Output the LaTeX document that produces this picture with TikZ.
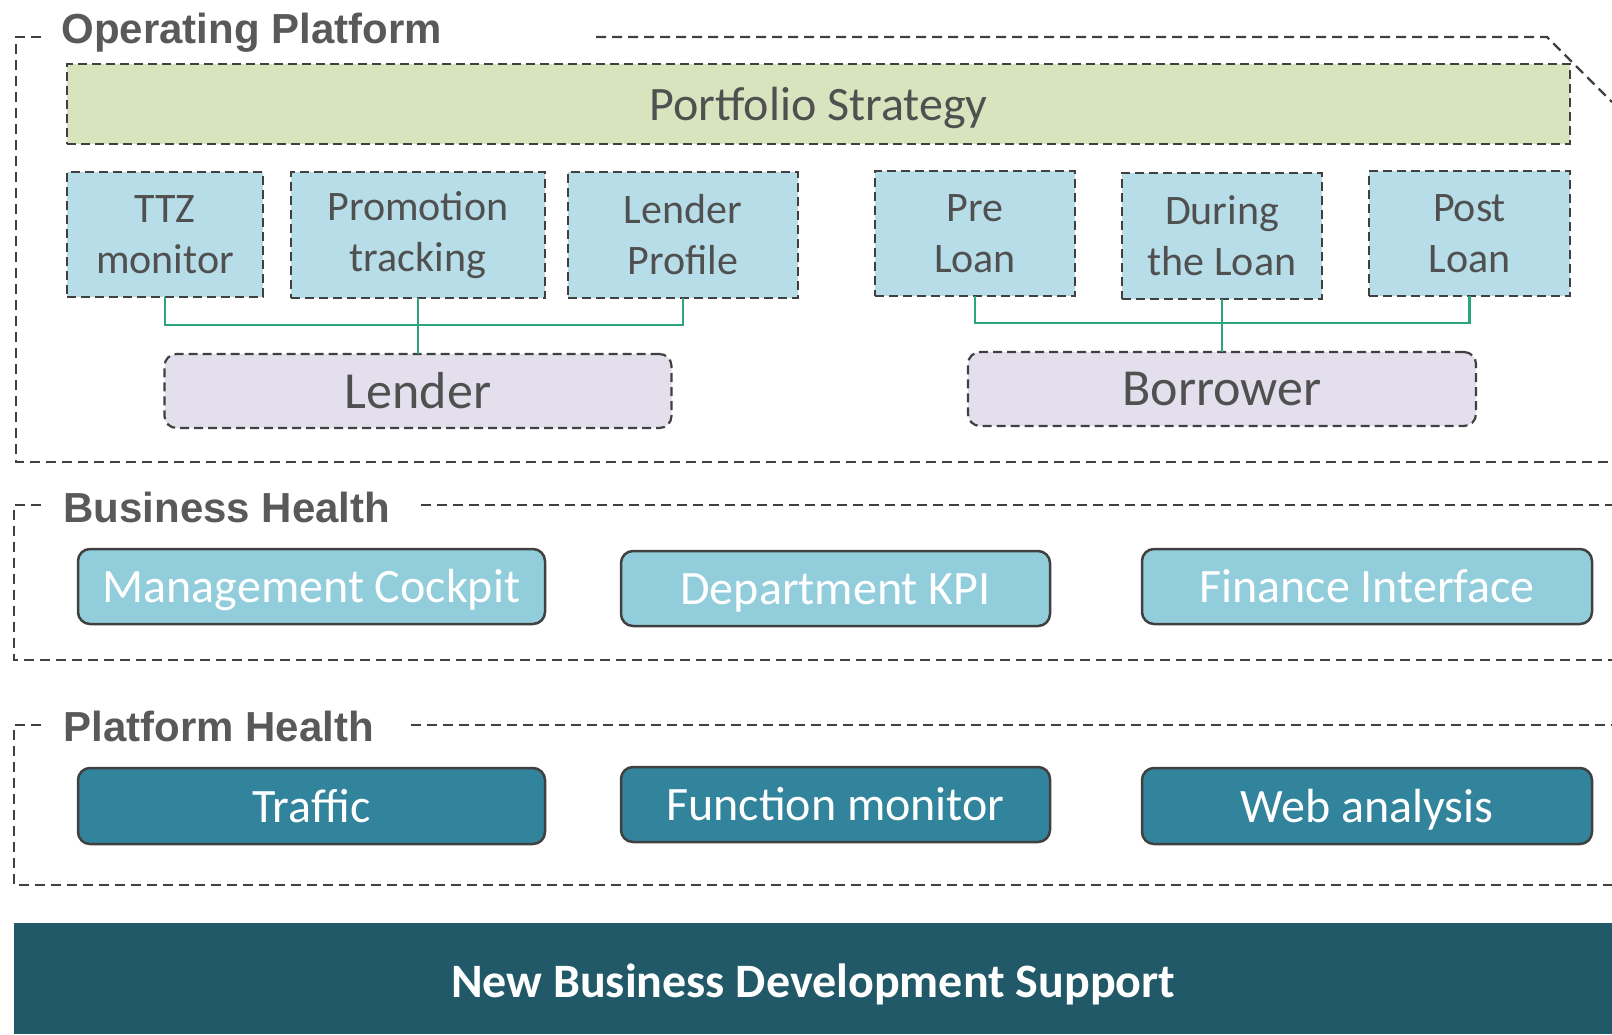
\documentclass[tikz,border=0pt]{standalone}
\usepackage{fontspec}
\setmainfont{Carlito}
\newfontfamily\headfont{Liberation Sans}
\usepackage{xcolor}
\usetikzlibrary{positioning,calc}
\definecolor{linegray}{HTML}{404040}
\definecolor{textgray}{HTML}{505050}
\definecolor{headgray}{HTML}{595959}
\definecolor{stratgreen}{HTML}{D7E4BD}
\definecolor{funcblue}{HTML}{B7DEE8}
\definecolor{rolelilac}{HTML}{E4DFEC}
\definecolor{bizblue}{HTML}{92CDDC}
\definecolor{platteal}{HTML}{31849B}
\definecolor{basedark}{HTML}{215968}
\definecolor{linkgreen}{HTML}{2BA67A}

\begin{document}
\begin{tikzpicture}[x=1pt, y=-1pt,
    frame/.style={draw=linegray, line width=2.4pt, dash pattern=on 10pt off 6pt},
    dbox/.style={draw=linegray, line width=2.2pt, dash pattern=on 9pt off 5pt, inner sep=0pt, outer sep=0pt, align=center, text=textgray},
    fbox/.style={dbox, fill=funcblue, font=\fontsize{42}{51}\selectfont},
    rbox/.style={dbox, fill=rolelilac, rounded corners=12pt, font=\fontsize{52}{60}\selectfont},
    sbox/.style={draw=linegray, line width=2.5pt, rounded corners=12pt, inner sep=0pt, outer sep=0pt, text=white, text height=32pt, text depth=0pt, font=\fontsize{48}{56}\selectfont},
    head/.style={anchor=base west, text=headgray, font=\headfont\bfseries\fontsize{42}{50}\selectfont},
    link/.style={draw=linkgreen, line width=2.2pt}
]
    \useasboundingbox (0,0) rectangle (1612,1034);

    \draw[frame] (41,37) -- (16,37) -- (16,462) -- (1612,462);
    \draw[frame] (596,37) -- (1547,37) -- (1612,102);
    \draw[frame] (41,505) -- (14,505) -- (14,660) -- (1612,660);
    \draw[frame] (421,505) -- (1612,505);
    \draw[frame] (41,725) -- (14,725) -- (14,885) -- (1612,885);
    \draw[frame] (411,725) -- (1612,725);

    \node[head] (op) at (58,43) {Operating Platform};
    \node[head] (bh) at (60,522) {Business Health};
    \node[head] (ph) at (60,741) {Platform Health};

    \node[fbox, fill=stratgreen, minimum width=1503, minimum height=80, text height=32pt, text depth=0pt, font=\fontsize{48}{56}\selectfont] (ps) at (818.5,104) {Portfolio Strategy};

    \node[fbox, minimum width=196, minimum height=125] (ttz) at (165,234.5) {TTZ\\monitor};
    \node[fbox, minimum width=254, minimum height=126] (promo) at (418,235) {Promotion\\tracking};
    \node[fbox, minimum width=230, minimum height=126] (lprof) at (683,235) {Lender\\Profile};
    \node[fbox, minimum width=200, minimum height=125] (pre) at (975,233.5) {Pre\\Loan};
    \node[fbox, minimum width=200, minimum height=126] (during) at (1222,236) {During\\the Loan};
    \node[fbox, minimum width=201, minimum height=125] (post) at (1469.5,233.5) {Post\\Loan};

    \node[rbox, minimum width=507, minimum height=74] (lender) at (418,391) {Lender};
    \node[rbox, minimum width=508, minimum height=74] (borrower) at (1222,389) {Borrower};

    \draw[link] (ttz.south) -- ++(0,28) -| (lprof.south);
    \draw[link] (promo.south) -- (lender.north);
    \draw[link] (pre.south) -- ++(0,27) -| (post.south);
    \draw[link] (during.south) -- (borrower.north);

    \node[sbox, fill=bizblue, minimum width=467, minimum height=75] (cockpit) at (311.5,586.5) {Management Cockpit};
    \node[sbox, fill=bizblue, minimum width=429, minimum height=75] (kpi) at (835.5,588.5) {Department KPI};
    \node[sbox, fill=bizblue, minimum width=450, minimum height=75] (finance) at (1367,586.5) {Finance Interface};

    \node[sbox, fill=platteal, minimum width=467, minimum height=76] (traffic) at (311.5,806) {Traffic};
    \node[sbox, fill=platteal, minimum width=429, minimum height=75] (funcmon) at (835.5,804.5) {Function monitor};
    \node[sbox, fill=platteal, minimum width=450, minimum height=76] (web) at (1367,806) {Web analysis};

    \node[fill=basedark, minimum width=1598, minimum height=111, inner sep=0pt, anchor=north west] (nbd) at (14,923) {};
    \node[text=white, text height=31pt, text depth=0pt, font=\bfseries\fontsize{48}{56}\selectfont] (nbdtext) at ([yshift=-3pt]nbd.center) {New Business Development Support};
\end{tikzpicture}
\end{document}
